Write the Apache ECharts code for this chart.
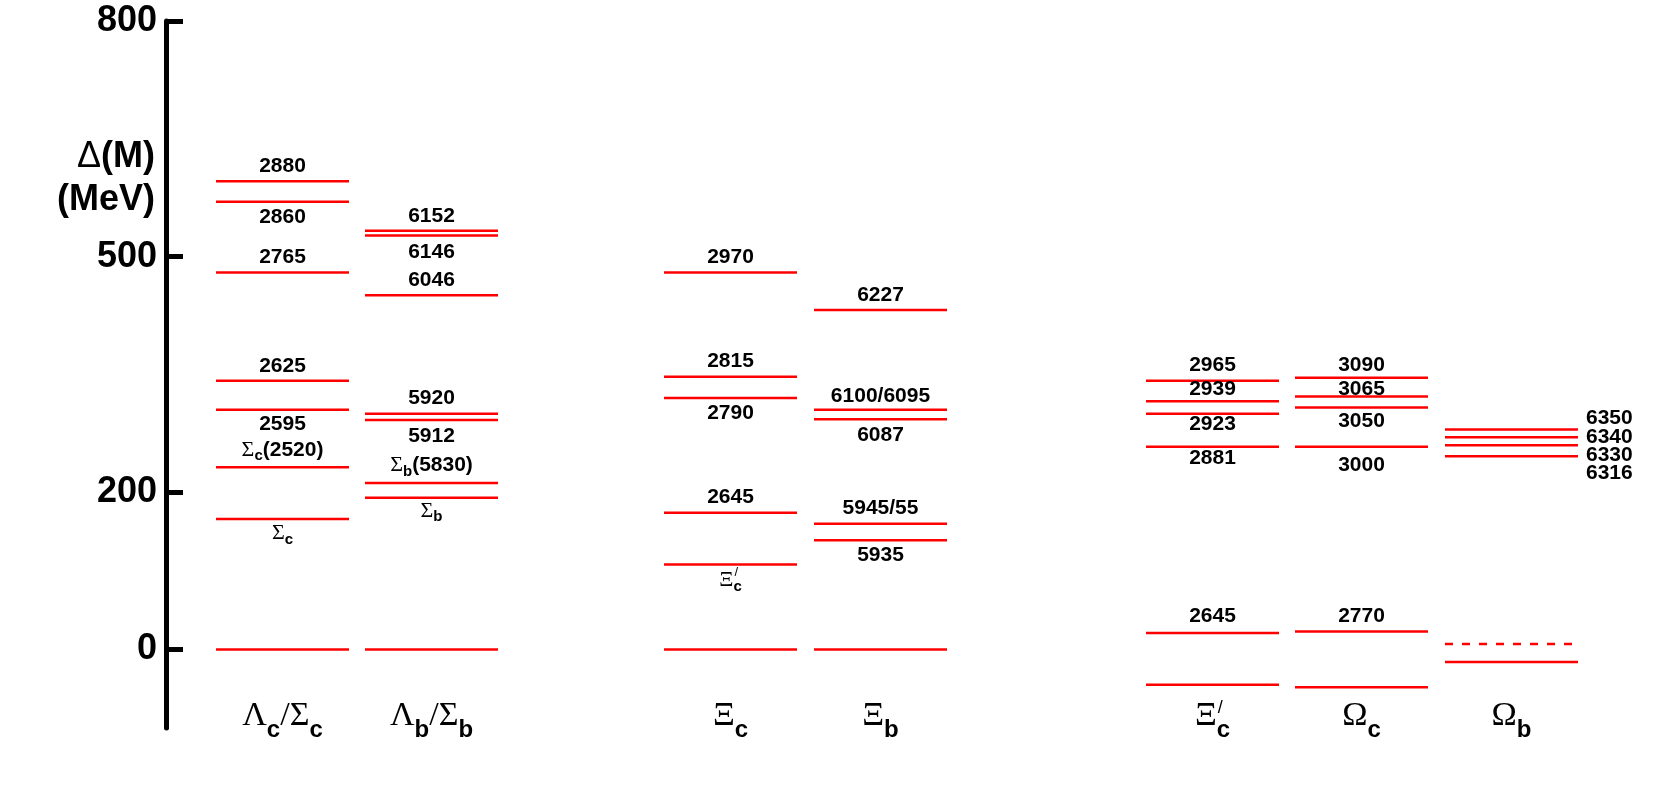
<!DOCTYPE html>
<html>
<head>
<meta charset="utf-8">
<style>
    html, body { margin: 0; padding: 0; background: #fff; }
    #main { width: 1661px; height: 788px; }
</style>
<script src="https://cdn.jsdelivr.net/npm/echarts@6/dist/echarts.min.js"></script>
</head>
<body>
<div id="main"></div>
<script>
// 重子能级 Δ(M) (MeV)，每列一个重子族
var columnNames = ['Λc/Σc', 'Λb/Σb', 'Ξc', 'Ξb', "Ξ'c", 'Ωc', 'Ωb'];
var yTicks = [0, 200, 500, 800];

var lambdaC = [596, 570, 480, 342, 305, 232, 166, 0];
var lambdaCText = ['2880', '2860', '2765', '2625', '2595', 'Σc(2520)', 'Σc', ''];
var lambdaB = [533, 527, 451, 300, 292, 212, 193, 0];
var lambdaBText = ['6152', '6146', '6046', '5920', '5912', 'Σb(5830)', 'Σb', ''];
var xiC = [480, 347, 320, 174, 108, 0];
var xiCText = ['2970', '2815', '2790', '2645', "Ξ'c", ''];
var xiB = [432, 305, 293, 160, 139, 0];
var xiBText = ['6227', '6100/6095', '6087', '5945/55', '5935', ''];
var xiPrimeC = [342, 316, 300, 258, 21, -45];
var xiPrimeCText = ['2965', '2939', '2923', '2881', '2645', ''];
var omegaC = [346, 322, 308, 258, 23, -48];
var omegaCText = ['3090', '3065', '3050', '3000', '2770', ''];
var omegaB = [280, 270, 260, 246, 7, -16];
var omegaBText = ['6350', '6340', '6330', '6316', '', ''];

var colValues = [lambdaC, lambdaB, xiC, xiB, xiPrimeC, omegaC, omegaB];
var colTexts = [lambdaCText, lambdaBText, xiCText, xiBText, xiPrimeCText, omegaCText, omegaBText];

// 布局：列中心（x 轴单位 = 像素），标签相对线的偏移
var colX = [116.5, 265.5, 564.5, 714.5, 1046.5, 1195.5, 1345.5];
var halfW = 66.5;
var labelOff = [
    [-15.5, 15.5, -15, -15, 14.5, -17, 14.5, 0],
    [-15, 16.5, -14.5, -16, 16, -17.5, 13, 0],
    [-15.5, -15.3, 15.5, -15.5, 16, 0],
    [-15, -14, 16, -16, 15, 0],
    [-15.3, -12.3, 10, 11, -17, 0],
    [-12.3, -7.7, 14, 18.5, -15.6, 0],
    [-11.7, -0.3, 10.3, 16.6, 0, 0]
];
var labelRight = [false, false, false, false, false, false, true];
var dashedLevel = { '6-4': true };

var SANS = '"Liberation Sans", Arial, Helvetica, sans-serif';
var SERIF = '"Liberation Serif", "Times New Roman", serif';

var measureCtx = document.createElement('canvas').getContext('2d');
function textWidth(t, font) {
    measureCtx.font = font;
    return measureCtx.measureText(t).width;
}

// 希腊字母用衬线体，紧跟的 c/b 作下标
function toRich(str) {
    var out = '', prevGreek = false, prevSub = false;
    for (var i = 0; i < str.length; i++) {
        var ch = str.charAt(i);
        if (/[ΛΣΞΩ]/.test(ch)) {
            out += '{g|' + ch + '}';
            prevGreek = true; prevSub = false;
        } else if (ch === "'") {
            // 撇号单独画
        } else if (prevGreek && /[a-z]/.test(ch)) {
            out += '{s|' + ch + '}';
            prevGreek = false; prevSub = true;
        } else if (ch === '/' && prevSub) {
            out += '{g|/}';
            prevSub = false;
        } else {
            out += ch;
            prevGreek = false; prevSub = false;
        }
    }
    return out;
}

// 下标靠 padding 顶部下移（下移量 = padding / 2）
var levelRich = {
    g: { fontFamily: SERIF, fontSize: 22, fontWeight: 'normal', lineHeight: 24, fill: '#000' },
    s: { fontFamily: SANS, fontSize: 15, fontWeight: 'bold', padding: [12, 0, 0, 0], fill: '#000' }
};
var titleRich = {
    g: { fontFamily: SERIF, fontSize: 34, fontWeight: 'normal', lineHeight: 34, fill: '#000' },
    s: { fontFamily: SANS, fontSize: 24, fontWeight: 'bold', padding: [28, 0, 0, 0], fill: '#000' }
};

function primeMark(str, cx, cy, gSize, sSize, pSize, dy) {
    var gw = textWidth(str.charAt(0), gSize + 'px ' + SERIF);
    var sw = textWidth('c', 'bold ' + sSize + 'px ' + SANS);
    var left = cx - (gw + sw) / 2;
    return {
        type: 'text',
        x: left + gw + 1,
        y: cy + dy,
        style: {
            text: '/', fill: '#000', align: 'left', verticalAlign: 'middle',
            font: 'normal ' + pSize + 'px ' + SANS
        }
    };
}

var levelData = [];
colValues.forEach(function (vals, c) {
    vals.forEach(function (v, i) {
        levelData.push([colX[c], v, c, i]);
    });
});
var titleData = colX.map(function (x, c) { return [x, -100, c]; });

function renderLevel(params, api) {
    var x = api.value(0), v = api.value(1);
    var c = api.value(2), i = api.value(3);
    var p1 = api.coord([x - halfW, v]);
    var p2 = api.coord([x + halfW, v]);
    var children = [{
        type: 'line',
        shape: { x1: p1[0], y1: p1[1], x2: p2[0], y2: p2[1] },
        style: {
            stroke: '#ff0000', lineWidth: 2.5,
            lineDash: dashedLevel[c + '-' + i] ? [8, 9] : null
        }
    }];
    var txt = colTexts[c][i];
    if (txt) {
        var right = labelRight[c];
        var tx = right ? p2[0] + 8 : (p1[0] + p2[0]) / 2;
        var ty = p1[1] + labelOff[c][i];
        children.push({
            type: 'text', x: tx, y: ty,
            style: {
                text: toRich(txt), rich: levelRich,
                font: 'bold 21px ' + SANS, lineHeight: 24, fill: '#000',
                align: right ? 'left' : 'center', verticalAlign: 'middle'
            }
        });
        if (txt.indexOf("'") >= 0) {
            children.push(primeMark(txt, tx, ty, 22, 15, 13, -8));
        }
    }
    return { type: 'group', children: children };
}

function renderTitle(params, api) {
    var c = api.value(2);
    var p = api.coord([api.value(0), api.value(1)]);
    var name = columnNames[c];
    var ty = p[1] - 12;
    var children = [{
        type: 'text', x: p[0], y: ty,
        style: {
            text: toRich(name), rich: titleRich,
            font: 'normal 34px ' + SERIF, lineHeight: 34, fill: '#000',
            align: 'center', verticalAlign: 'middle'
        }
    }];
    if (name.indexOf("'") >= 0) {
        children.push(primeMark(name, p[0], ty, 34, 24, 18, -8));
    }
    return { type: 'group', children: children };
}

var chart = echarts.init(document.getElementById('main'));
var option = {
    backgroundColor: '#fff',
    animation: false,
    grid: { left: 166, right: 61, top: 21, bottom: 60 },
    xAxis: { type: 'value', min: 0, max: 1434, show: false },
    yAxis: {
        type: 'value',
        min: -100,
        max: 800,
        splitLine: { show: false },
        axisLine: { show: true, lineStyle: { color: '#000', width: 5 } },
        axisTick: {
            show: true, inside: true, length: 17, customValues: yTicks,
            lineStyle: { color: '#000', width: 5 }
        },
        axisLabel: {
            customValues: yTicks, margin: 9, color: '#000',
            fontSize: 36, fontWeight: 'bold', fontFamily: SANS
        }
    },
    graphic: [
        {
            type: 'text', x: 155, y: 157,
            style: {
                text: '{d|Δ}(M)', fill: '#000', align: 'right', verticalAlign: 'middle',
                font: 'bold 36px ' + SANS,
                rich: { d: { fontFamily: SANS, fontWeight: 'normal', fontSize: 36, fill: '#000' } }
            }
        },
        {
            type: 'text', x: 155, y: 200,
            style: {
                text: '(MeV)', fill: '#000', align: 'right', verticalAlign: 'middle',
                font: 'bold 36px ' + SANS
            }
        }
    ],
    series: [
        {
            type: 'custom',
            clip: false,
            data: levelData,
            renderItem: renderLevel
        },
        {
            type: 'custom',
            clip: false,
            data: titleData,
            renderItem: renderTitle
        }
    ]
};
chart.setOption(option);
</script>
</body>
</html>
